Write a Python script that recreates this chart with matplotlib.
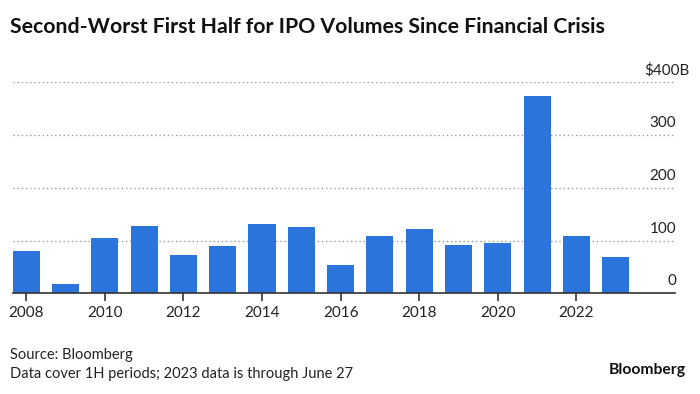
import matplotlib
matplotlib.use("Agg")
import matplotlib.pyplot as plt
import matplotlib.transforms as mtransforms

years = list(range(2008, 2024))
volumes = [81, 17, 104, 127, 73, 90, 131, 126, 53, 108, 121, 91, 95, 374, 108, 68]
xtick_years = [2008, 2010, 2012, 2014, 2016, 2018, 2020, 2022]
ytick_values = [0, 100, 200, 300, 400]
ytick_labels = ["0", "100", "200", "300", "$400B"]

title = "Second-Worst First Half for IPO Volumes Since Financial Crisis"
source = "Source: Bloomberg"
note = "Data cover 1H periods; 2023 data is through June 27"

plt.rcParams["font.family"] = ["Lato", "DejaVu Sans"]

fig = plt.figure(figsize=(7, 3.94), dpi=100)
ax = fig.add_axes([12.7 / 700, 1 - 293.3 / 394, (675 - 12.7) / 700, (293.3 - 82.3) / 394])

ax.bar(years, volumes, width=0.69, color="#2A74DC", zorder=2)
ax.set_xlim(2007.655, 2024.51)
ax.set_ylim(0, 400)

for s in ["top", "right", "left"]:
    ax.spines[s].set_visible(False)
ax.spines["bottom"].set_color("#333333")
ax.spines["bottom"].set_linewidth(1.2)
ax.spines["bottom"].set_zorder(3)

ax.set_xticks(xtick_years)
ax.set_xticklabels([str(y) for y in xtick_years])
ax.tick_params(axis="x", length=6, width=1.2, color="#333333", pad=3,
               labelsize=11, labelcolor="#222222")

ax.yaxis.tick_right()
ax.set_yticks(ytick_values)
ax.set_yticklabels(ytick_labels)
ax.tick_params(axis="y", length=0, pad=0, labelsize=11, labelcolor="#222222")
for v, lab in zip(ytick_values, ax.get_yticklabels()):
    lab.set_horizontalalignment("right")
    lab.set_verticalalignment("bottom")
    dx = 14 if v == 400 else 1
    lab.set_transform(lab.get_transform() + mtransforms.ScaledTranslation(dx / 100, 5 / 100, fig.dpi_scale_trans))

ax.grid(axis="y", linestyle=(0, (1, 2)), color="#999999", linewidth=1, zorder=1)
ax.grid(axis="x", visible=False)
ax.set_axisbelow(True)

fig.text(10 / 700, 1 - 27 / 394, title, fontsize=15.3, fontweight="bold", va="center", ha="left", color="#111111")
fig.text(10 / 700, 1 - 355 / 394, source, fontsize=10.5, va="center", ha="left", color="#222222")
fig.text(10 / 700, 1 - 374 / 394, note, fontsize=10.5, va="center", ha="left", color="#222222")
fig.text(686 / 700, 1 - 370 / 394, "Bloomberg", fontsize=11.3, fontweight="bold", va="center", ha="right", color="#111111")

fig.savefig("out.png", dpi=100)
